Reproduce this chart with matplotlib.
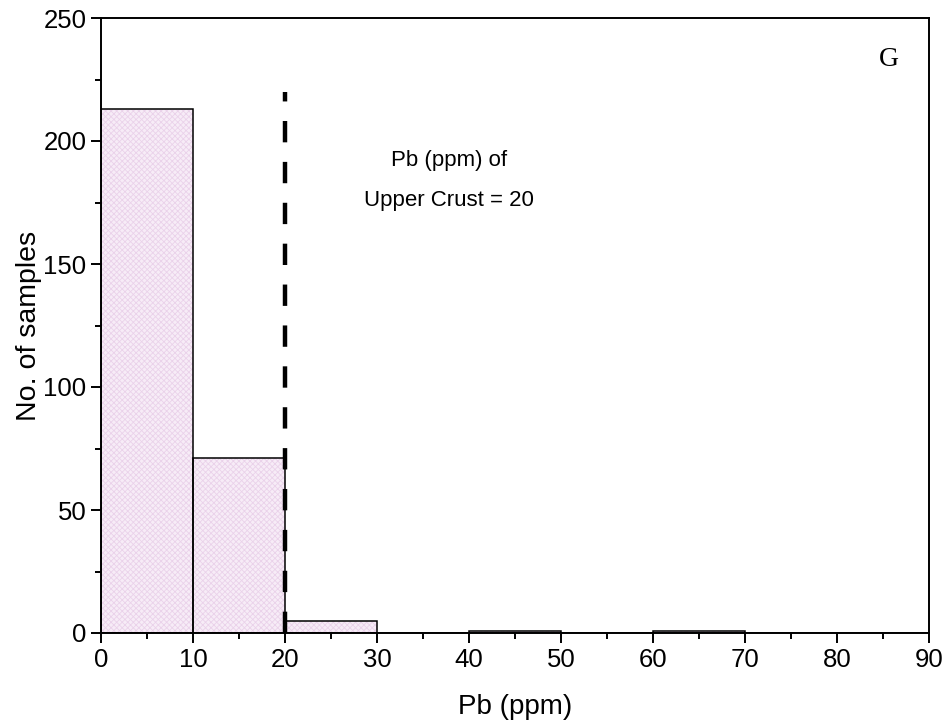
import numpy as np
from matplotlib import pyplot as plt
from matplotlib.ticker import MultipleLocator

# histogram of Pb concentrations
bin_left = [0, 10, 20, 30, 40, 50, 60, 70, 80]
counts = [213, 71, 5, 0, 1, 0, 1, 0, 0]
bin_width = 10
upper_crust = 20

plt.rcParams['font.family'] = ['Liberation Sans', 'DejaVu Sans']
plt.rcParams['hatch.linewidth'] = 0.6

fig = plt.figure(figsize=(9.49, 7.27), dpi=100)
ax = fig.add_axes([101 / 949, 1 - 633 / 727, 828 / 949, 615 / 727])

# hatched pink fill first, then the black outlines on top
ax.bar(bin_left, counts, width=bin_width, align='edge', color='#f7ecf7',
       edgecolor='#ead2ea', hatch='xxxxxx', linewidth=0)
ax.bar(bin_left, counts, width=bin_width, align='edge', fill=False,
       edgecolor='black', linewidth=1.1)

ax.plot([upper_crust, upper_crust], [0, 220], color='black', lw=3.2,
        dashes=(4.8, 4.4))

ax.text(37.8, 192, 'Pb (ppm) of', ha='center', va='center', fontsize=16)
ax.text(37.8, 176, 'Upper Crust = 20', ha='center', va='center', fontsize=16)
ax.text(85.6, 233, 'G', ha='center', va='center', fontsize=20,
        family='Liberation Serif')

ax.set_xlim(0, 90)
ax.set_ylim(0, 250)
ax.xaxis.set_major_locator(MultipleLocator(10))
ax.xaxis.set_minor_locator(MultipleLocator(5))
ax.yaxis.set_major_locator(MultipleLocator(50))
ax.yaxis.set_minor_locator(MultipleLocator(25))
ax.tick_params(which='major', direction='out', length=7, width=1.4,
               labelsize=18.5, top=False, right=False)
ax.tick_params(which='minor', direction='out', length=4, width=1.4,
               top=False, right=False)
for s in ax.spines.values():
    s.set_linewidth(1.4)

ax.set_xlabel('Pb (ppm)', fontsize=20, labelpad=16)
ax.set_ylabel('No. of samples', fontsize=20.5, labelpad=1)

plt.savefig('out.png', dpi=100)
